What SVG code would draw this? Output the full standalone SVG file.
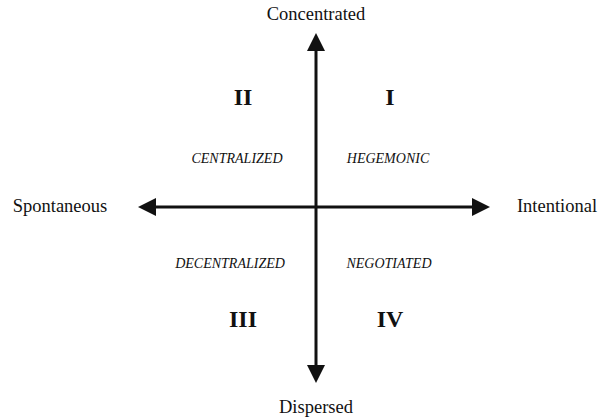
<svg xmlns="http://www.w3.org/2000/svg" width="598" height="418" viewBox="0 0 598 418">
<style>
text{font-family:"Liberation Serif","Times New Roman",serif;fill:#111;text-anchor:middle}
.ax{font-size:18.5px}
.num{font-size:24px;font-weight:bold}
.lab{font-size:14px;font-style:italic}
.line{stroke:#111;stroke-width:3;fill:none}
</style>
<defs>
<marker id="ah" markerWidth="6" markerHeight="6" refX="1" refY="3" orient="auto" markerUnits="strokeWidth">
<path d="M0,0 L6,3 L0,6 z" fill="#111"/>
</marker>
</defs>
<rect width="598" height="418" fill="#fff"/>
<g id="connectors">
<line class="line" x1="316" y1="207" x2="316" y2="48" marker-end="url(#ah)"/>
<line class="line" x1="316" y1="207" x2="316" y2="368" marker-end="url(#ah)"/>
<line class="line" x1="316" y1="207" x2="153" y2="207" marker-end="url(#ah)"/>
<line class="line" x1="316" y1="207" x2="475" y2="207" marker-end="url(#ah)"/>
</g>
<g id="concentrated"><text class="ax" x="316" y="20">Concentrated</text></g>
<g id="dispersed"><text class="ax" x="316" y="413">Dispersed</text></g>
<g id="spontaneous"><text class="ax" x="60" y="212">Spontaneous</text></g>
<g id="intentional"><text class="ax" x="557" y="212">Intentional</text></g>
<g id="q2"><text class="num" x="243" y="105">II</text><text class="lab" x="237" y="163">CENTRALIZED</text></g>
<g id="q1"><text class="num" x="390" y="105">I</text><text class="lab" x="388" y="163">HEGEMONIC</text></g>
<g id="q3"><text class="lab" x="230" y="268">DECENTRALIZED</text><text class="num" x="243" y="327">III</text></g>
<g id="q4"><text class="lab" x="389" y="268">NEGOTIATED</text><text class="num" x="390" y="327">IV</text></g>
</svg>
